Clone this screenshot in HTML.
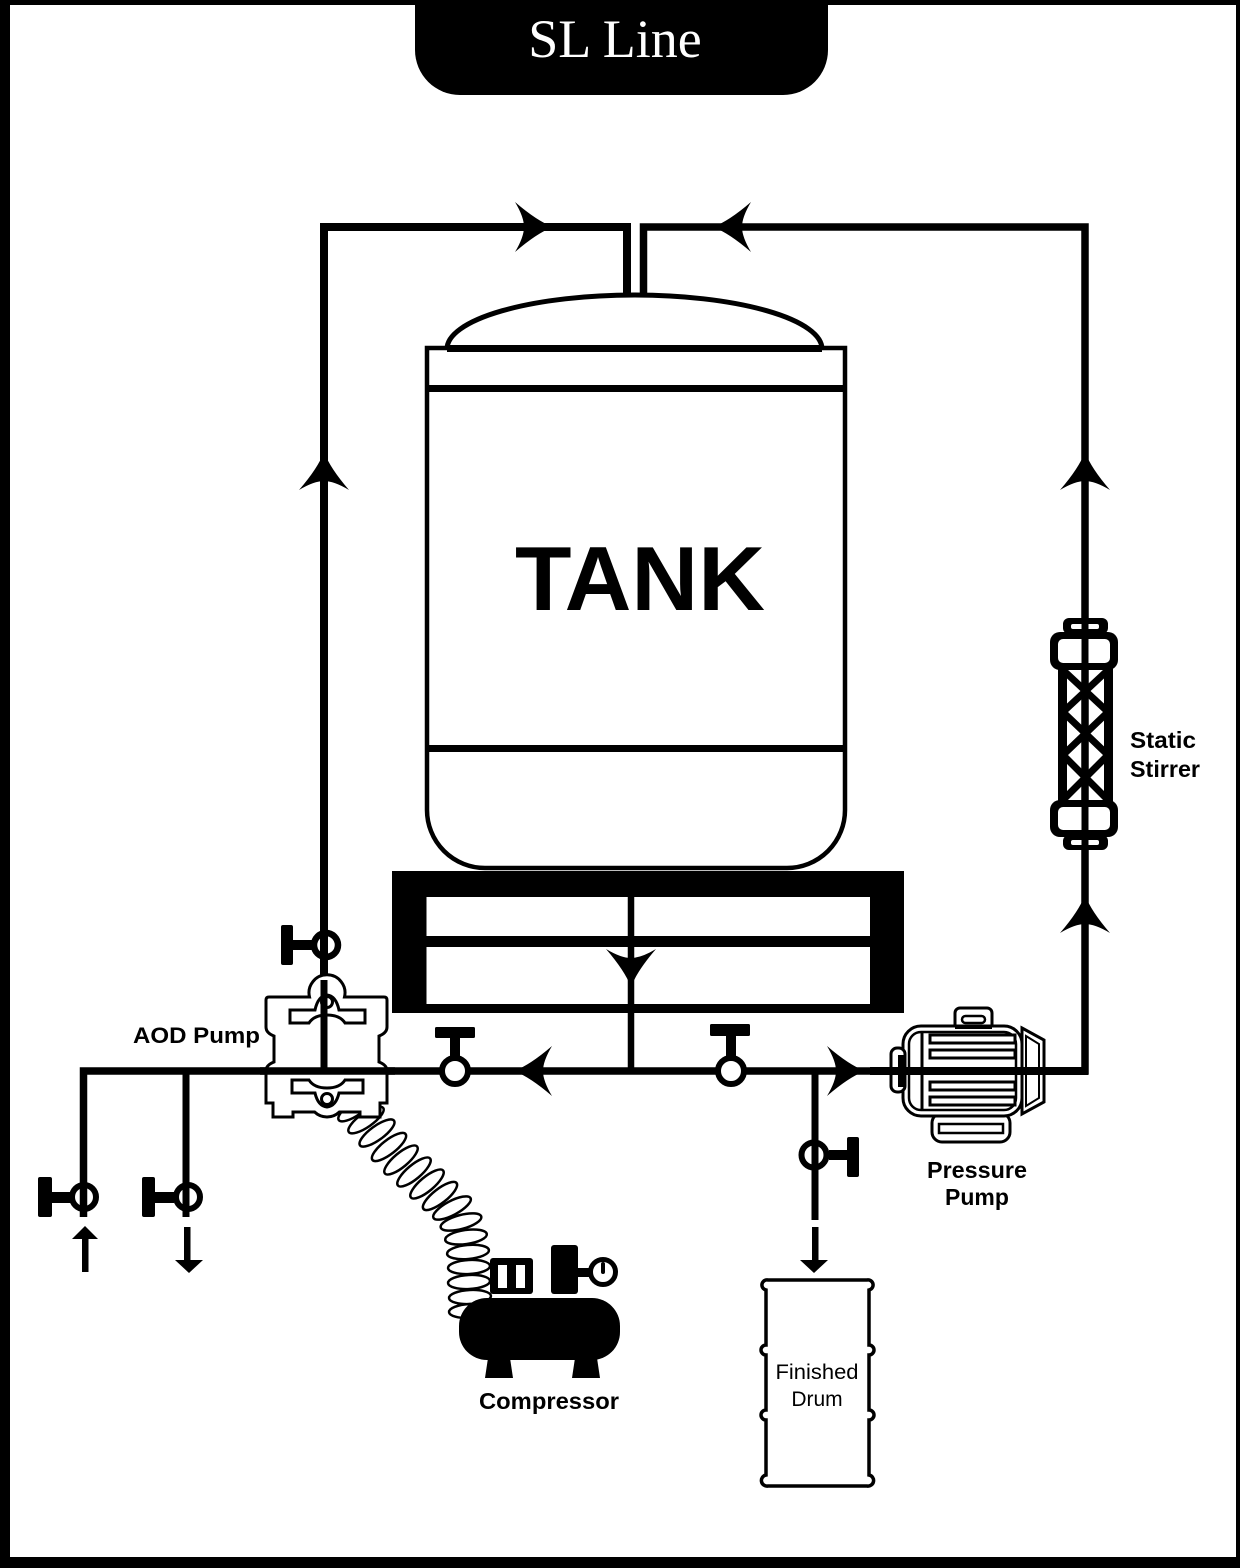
<!DOCTYPE html>
<html>
<head>
<meta charset="utf-8">
<style>
html,body{margin:0;padding:0;background:#fff;}
svg{display:block;}
</style>
</head>
<body>
<svg width="1240" height="1568" viewBox="0 0 1240 1568" xmlns="http://www.w3.org/2000/svg">
<defs>
<path id="arr" d="M0,0 Q-16,-6 -38,-25 Q-29,-10 -29,0 Q-29,10 -38,25 Q-16,6 0,0Z" fill="#000"/>
</defs>
<rect width="1240" height="1568" fill="#fff"/>
<!-- frame -->
<rect x="0" y="0" width="10" height="1568" fill="#000"/>
<rect x="0" y="0" width="1240" height="5" fill="#000"/>
<rect x="1236" y="0" width="4" height="1568" fill="#000"/>
<rect x="0" y="1557" width="1240" height="11" fill="#000"/>

<!-- title tab -->
<path d="M415 0 H828 V50 A45 45 0 0 1 783 95 H460 A45 45 0 0 1 415 50 Z" fill="#000"/>
<text x="615" y="57" font-family="Liberation Serif, serif" font-size="54" fill="#fff" text-anchor="middle">SL Line</text>

<!-- tank dome -->
<path d="M447 349 A187.5 54 0 0 1 822 349" fill="#fff" stroke="#000" stroke-width="5"/>
<!-- tank body -->
<path d="M427 348 H845 V810 A58 58 0 0 1 787 868 H485 A58 58 0 0 1 427 810 Z" fill="#fff" stroke="#000" stroke-width="4.5"/>
<rect x="447" y="345" width="375" height="7" fill="#000"/>
<rect x="427" y="385" width="418" height="7" fill="#000"/>
<rect x="427" y="745" width="418" height="7" fill="#000"/>
<text x="640" y="610" font-family="Liberation Sans, sans-serif" font-weight="bold" font-size="91" text-anchor="middle" textLength="250" lengthAdjust="spacingAndGlyphs">TANK</text>

<!-- base -->
<rect x="392" y="871" width="512" height="142" fill="#000"/>
<rect x="426.5" y="897" width="443.5" height="39" fill="#fff"/>
<rect x="426.5" y="947" width="443.5" height="57" fill="#fff"/>

<!-- pipes -->
<path d="M627 297 V227 H324 V1071" fill="none" stroke="#000" stroke-width="8" stroke-linejoin="miter"/>
<path d="M643.5 297 V227 H1085 V1071 H83.5 V1217" fill="none" stroke="#000" stroke-width="7.5" stroke-linejoin="miter"/>
<line x1="186" y1="1071" x2="186" y2="1217" stroke="#000" stroke-width="7"/>
<line x1="631" y1="879" x2="631" y2="1071" stroke="#000" stroke-width="6.5"/>
<line x1="815" y1="1071" x2="815" y2="1220" stroke="#000" stroke-width="7"/>

<!-- arrows -->
<use href="#arr" transform="translate(553,227)"/>
<use href="#arr" transform="translate(713,227) rotate(180)"/>
<use href="#arr" transform="translate(324,452) rotate(-90)"/>
<use href="#arr" transform="translate(1085,452) rotate(-90)"/>
<use href="#arr" transform="translate(1085,895) rotate(-90)"/>
<use href="#arr" transform="translate(631,987) rotate(90)"/>
<use href="#arr" transform="translate(514,1071) rotate(180)"/>
<use href="#arr" transform="translate(865,1071)"/>

<!-- valve on left vertical -->
<rect x="281" y="925" width="12" height="40" rx="2" fill="#000"/>
<rect x="292" y="940" width="23" height="10" fill="#000"/>
<circle cx="326" cy="945" r="12" fill="none" stroke="#000" stroke-width="6.5"/>

<!-- main line valves -->
<rect x="435" y="1027" width="40" height="11" rx="1.5" fill="#000"/>
<rect x="450" y="1036" width="10" height="22" fill="#000"/>
<circle cx="455" cy="1071" r="13" fill="#fff" stroke="#000" stroke-width="6"/>
<rect x="710" y="1024" width="40" height="12" rx="1.5" fill="#000"/>
<rect x="726" y="1034" width="10" height="23" fill="#000"/>
<circle cx="731" cy="1071" r="13" fill="#fff" stroke="#000" stroke-width="6"/>

<!-- left branch valves and arrows -->
<rect x="38" y="1177" width="14" height="40" rx="2" fill="#000"/>
<rect x="50" y="1192" width="21" height="11" fill="#000"/>
<circle cx="84" cy="1197" r="12" fill="none" stroke="#000" stroke-width="6"/>
<rect x="142" y="1177" width="13" height="40" rx="2" fill="#000"/>
<rect x="153" y="1192" width="21" height="11" fill="#000"/>
<circle cx="188" cy="1197" r="12" fill="none" stroke="#000" stroke-width="6"/>
<rect x="82" y="1236" width="6.5" height="36" fill="#000"/>
<polygon points="72,1239 98,1239 85,1226" fill="#000"/>
<rect x="184" y="1227" width="6.5" height="35" fill="#000"/>
<polygon points="175,1260 203,1260 189,1273" fill="#000"/>

<!-- drum valve & arrow -->
<circle cx="814" cy="1155" r="12.5" fill="none" stroke="#000" stroke-width="6"/>
<rect x="829" y="1150" width="20" height="10" fill="#000"/>
<rect x="847" y="1137" width="12" height="40" rx="2" fill="#000"/>
<rect x="812" y="1227" width="6.5" height="35" fill="#000"/>
<polygon points="800,1260 828,1260 814,1273" fill="#000"/>

<!-- drum -->
<path d="M768 1280 H867 A5 5 0 0 1 869 1290 V1345 A5 5 0 0 1 869 1355 V1410 A5 5 0 0 1 869 1420 V1475 A5 5 0 0 1 867 1486 H768 A5 5 0 0 1 766 1475 V1420 A5 5 0 0 1 766 1410 V1355 A5 5 0 0 1 766 1345 V1290 A5 5 0 0 1 768 1280 Z" fill="#fff" stroke="#000" stroke-width="3.5"/>
<text x="817" y="1379" font-family="Liberation Sans, sans-serif" font-size="21" text-anchor="middle" textLength="83" lengthAdjust="spacingAndGlyphs">Finished</text>
<text x="817" y="1406" font-family="Liberation Sans, sans-serif" font-size="21" text-anchor="middle">Drum</text>

<!-- coil hose -->
<g fill="none" stroke="#000" stroke-width="2.5">
<ellipse cx="356" cy="1108" rx="21" ry="7" transform="rotate(-35 356 1108)"/>
<ellipse cx="366" cy="1120" rx="21" ry="7" transform="rotate(-35 366 1120)"/>
<ellipse cx="377" cy="1133" rx="21" ry="7" transform="rotate(-36 377 1133)"/>
<ellipse cx="389" cy="1147" rx="21" ry="7" transform="rotate(-38 389 1147)"/>
<ellipse cx="401" cy="1160" rx="21" ry="7" transform="rotate(-40 401 1160)"/>
<ellipse cx="414" cy="1172" rx="21" ry="7" transform="rotate(-40 414 1172)"/>
<ellipse cx="427" cy="1184" rx="21" ry="7" transform="rotate(-40 427 1184)"/>
<ellipse cx="440" cy="1196" rx="21" ry="7" transform="rotate(-38 440 1196)"/>
<ellipse cx="452" cy="1208" rx="21" ry="7" transform="rotate(-28 452 1208)"/>
<ellipse cx="461" cy="1222" rx="21" ry="7" transform="rotate(-15 461 1222)"/>
<ellipse cx="466" cy="1237" rx="21" ry="7" transform="rotate(-8 466 1237)"/>
<ellipse cx="468" cy="1252" rx="21" ry="7" transform="rotate(-5 468 1252)"/>
<ellipse cx="469" cy="1267" rx="21" ry="7" transform="rotate(-3 469 1267)"/>
<ellipse cx="469" cy="1282" rx="21" ry="7" transform="rotate(-3 469 1282)"/>
<ellipse cx="470" cy="1297" rx="21" ry="7" transform="rotate(-3 470 1297)"/>
<ellipse cx="470" cy="1311" rx="21" ry="7" transform="rotate(-3 470 1311)"/>
</g>

<!-- AOD pump -->
<g stroke="#000" stroke-width="3" fill="#fff">
<path d="M269 997 H309.5 A18 18 0 1 1 344.5 997 H384 Q387 997 387 1000 V1027 Q387 1033 379 1036 V1062 Q387 1065 387 1071 V1103 H380 V1117 H360 V1112 H339.4 A18 18 0 0 1 314.6 1112 H293 V1117 H273 V1103 H266 V1071 Q266 1065 274 1062 V1036 Q266 1033 266 1027 V1000 Q266 997 269 997 Z"/>
<path d="M290 1010 H315 Q318 996 327 995 Q336 996 339 1010 H365 V1023 H345 Q340 1015 327 1015 Q314 1015 309 1023 H290 Z"/>
<circle cx="327" cy="1002" r="5.5"/>
<path d="M292 1093 H315 Q318 1106 327 1107 Q336 1106 339 1093 H363 V1080 H345 Q340 1088 327 1088 Q314 1088 309 1080 H292 Z"/>
<circle cx="327" cy="1099" r="5.5"/>
</g>
<line x1="324" y1="980" x2="324" y2="1071" stroke="#000" stroke-width="7"/>
<line x1="260" y1="1071" x2="395" y2="1071" stroke="#000" stroke-width="7.5"/>
<text x="260" y="1043" font-family="Liberation Sans, sans-serif" font-weight="bold" font-size="22" text-anchor="end" textLength="127" lengthAdjust="spacingAndGlyphs">AOD Pump</text>

<!-- compressor -->
<rect x="459" y="1298" width="161" height="62" rx="28" fill="#000"/>
<polygon points="488,1358 510,1358 513,1378 485,1378" fill="#000"/>
<polygon points="575,1358 597,1358 600,1378 572,1378" fill="#000"/>
<rect x="490" y="1258" width="43" height="36" rx="3" fill="#000"/>
<rect x="498" y="1265" width="9" height="23" fill="#fff"/>
<rect x="516" y="1265" width="9" height="23" fill="#fff"/>
<rect x="551" y="1245" width="27" height="49" rx="3" fill="#000"/>
<rect x="577" y="1268" width="13" height="9" fill="#000"/>
<circle cx="603" cy="1272" r="12.5" fill="#fff" stroke="#000" stroke-width="5"/>
<rect x="601" y="1262" width="4" height="12" rx="2" fill="#000"/>
<text x="549" y="1409" font-family="Liberation Sans, sans-serif" font-weight="bold" font-size="23" text-anchor="middle" textLength="140" lengthAdjust="spacingAndGlyphs">Compressor</text>

<!-- pressure pump -->
<g stroke="#000" fill="#fff">
<rect x="955" y="1008" width="37" height="22" rx="5" stroke-width="3"/>
<rect x="962" y="1016" width="23" height="7" rx="3.5" stroke-width="2.5"/>
<rect x="932" y="1113" width="78" height="29" rx="10" stroke-width="3"/>
<rect x="939" y="1124" width="64" height="9" stroke-width="2.5"/>
<rect x="903" y="1026" width="119" height="90" rx="18" stroke-width="3"/>
<rect x="909" y="1032" width="107" height="78" rx="12" stroke-width="2.5"/>
<polygon points="1022,1028 1044,1040 1044,1102 1022,1114" stroke-width="3"/>
<polygon points="1026,1036 1039,1044 1039,1098 1026,1106" stroke-width="2"/>
<rect x="891" y="1048" width="14" height="44" rx="6" stroke-width="3"/>
<line x1="922" y1="1032" x2="922" y2="1110" stroke-width="3"/>
<rect x="930" y="1035" width="85" height="8" stroke-width="3"/>
<rect x="930" y="1050" width="85" height="8" stroke-width="3"/>
<rect x="930" y="1082" width="85" height="8" stroke-width="3"/>
<rect x="930" y="1097" width="85" height="8" stroke-width="3"/>
</g>
<rect x="955" y="1025" width="37" height="4" fill="#000"/>
<rect x="898" y="1055" width="6" height="32" fill="#000"/>
<line x1="870" y1="1071" x2="1088" y2="1071" stroke="#000" stroke-width="8"/>
<text x="977" y="1178" font-family="Liberation Sans, sans-serif" font-weight="bold" font-size="23" text-anchor="middle" textLength="100" lengthAdjust="spacingAndGlyphs">Pressure</text>
<text x="977" y="1205" font-family="Liberation Sans, sans-serif" font-weight="bold" font-size="23" text-anchor="middle">Pump</text>

<!-- static stirrer -->
<rect x="1063" y="618" width="45" height="16" rx="6" fill="#000"/>
<rect x="1071" y="624" width="28" height="5" rx="2" fill="#fff"/>
<rect x="1050" y="632" width="68" height="38" rx="10" fill="#000"/>
<rect x="1058" y="639" width="52" height="24" rx="5" fill="#fff"/>
<rect x="1058" y="668" width="9" height="134" fill="#000"/>
<rect x="1104" y="668" width="9" height="134" fill="#000"/>
<g stroke="#000" stroke-width="7">
<line x1="1063" y1="670" x2="1108" y2="712"/>
<line x1="1108" y1="670" x2="1063" y2="712"/>
<line x1="1063" y1="712" x2="1108" y2="755"/>
<line x1="1108" y1="712" x2="1063" y2="755"/>
<line x1="1063" y1="755" x2="1108" y2="800"/>
<line x1="1108" y1="755" x2="1063" y2="800"/>
</g>
<rect x="1050" y="800" width="68" height="37" rx="10" fill="#000"/>
<rect x="1058" y="807" width="52" height="23" rx="5" fill="#fff"/>
<rect x="1063" y="835" width="45" height="15" rx="6" fill="#000"/>
<rect x="1071" y="840" width="28" height="5" rx="2" fill="#fff"/>
<line x1="1085" y1="600" x2="1085" y2="860" stroke="#000" stroke-width="7"/>
<text x="1130" y="748" font-family="Liberation Sans, sans-serif" font-weight="bold" font-size="23" textLength="66" lengthAdjust="spacingAndGlyphs">Static</text>
<text x="1130" y="777" font-family="Liberation Sans, sans-serif" font-weight="bold" font-size="23" textLength="70" lengthAdjust="spacingAndGlyphs">Stirrer</text>
</svg>
</body>
</html>
